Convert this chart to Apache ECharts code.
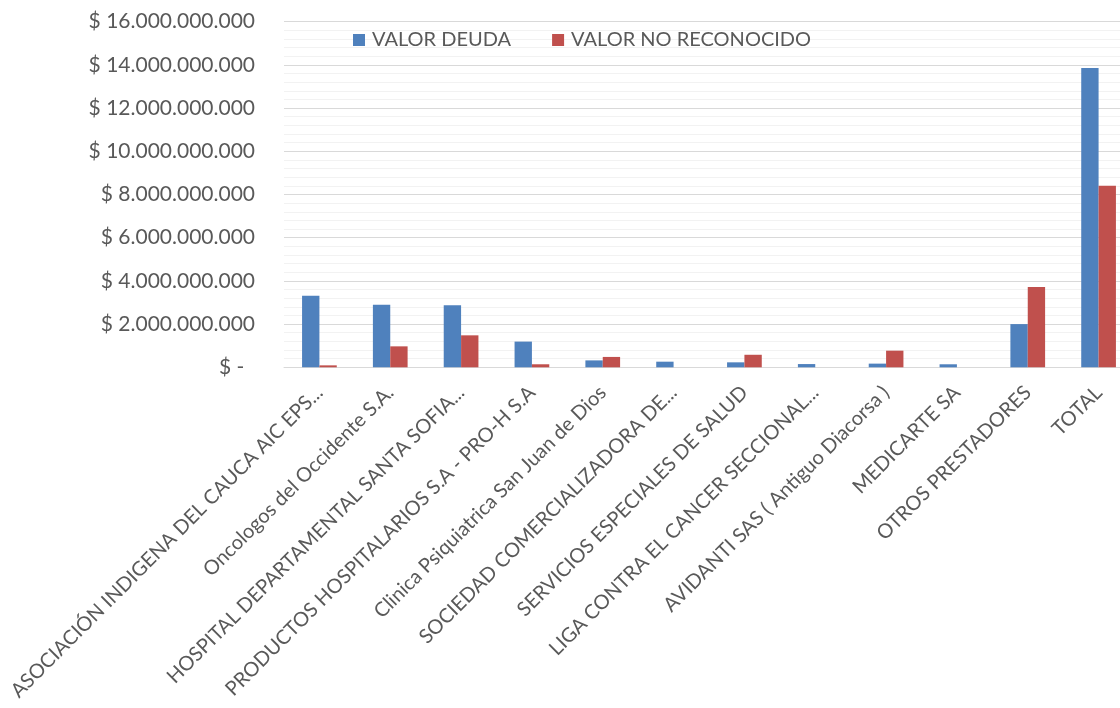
<!DOCTYPE html>
<html>
<head>
<meta charset="utf-8">
<script src="https://cdn.jsdelivr.net/npm/echarts@6/dist/echarts.min.js"></script>
<style>
html,body{margin:0;padding:0;background:#fff;overflow:hidden;width:1120px;height:708px;}
#main{width:1140px;height:708px;}
</style>
</head>
<body>
<div id="main"></div>
<script>
const categories = [
  "ASOCIACIÓN INDIGENA DEL CAUCA AIC EPS...",
  "Oncologos del Occidente S.A.",
  "HOSPITAL DEPARTAMENTAL SANTA SOFIA...",
  "PRODUCTOS HOSPITALARIOS S.A - PRO-H S.A",
  "Clinica Psiquiatrica San Juan de Dios",
  "SOCIEDAD COMERCIALIZADORA DE...",
  "SERVICIOS ESPECIALES DE SALUD",
  "LIGA CONTRA EL CANCER SECCIONAL...",
  "AVIDANTI SAS ( Antiguo Diacorsa )",
  "MEDICARTE SA",
  "OTROS PRESTADORES",
  "TOTAL"
];
const valorDeuda = [3310000000, 2900000000, 2870000000, 1190000000, 320000000, 260000000, 230000000, 150000000, 170000000, 140000000, 2000000000, 13860000000];
const valorNoReconocido = [90000000, 970000000, 1480000000, 140000000, 480000000, 0, 580000000, 0, 770000000, 0, 3720000000, 8410000000];
const seriesNames = ["VALOR DEUDA", "VALOR NO RECONOCIDO"];
const yMin = 0, yMax = 16000000000, yStep = 2000000000;

function fmt(v){
  if (v === 0) return "$ -  ";
  return "$ " + String(Math.round(v)).replace(/\B(?=(\d{3})+(?!\d))/g, ".");
}

const chart = echarts.init(document.getElementById('main'), null, {renderer:'canvas', width:1140, height:708});
const FONT = 'Lato';
chart.setOption({
  animation: false,
  backgroundColor: '#ffffff',
  textStyle: {fontFamily: FONT},
  legend: {
    left: 353, top: 30, padding: 0,
    itemWidth: 12, itemHeight: 12, itemGap: 41,
    icon: 'rect',
    textStyle: {fontFamily: FONT, fontSize: 20, color: '#595959', padding:[0,0,0,2]},
    data: seriesNames
  },
  grid: {left: 284, top: 21.7, width: 850, bottom: 340.7, containLabel: false},
  xAxis: {
    type: 'category',
    data: categories,
    axisLine: {show: true, lineStyle: {color: '#D9D9D9', width: 1}},
    axisTick: {show: false},
    axisLabel: {
      interval: 0, rotate: 45, margin: 22,
      fontFamily: FONT, fontSize: 20, color: '#595959'
    }
  },
  yAxis: {
    type: 'value',
    min: yMin, max: yMax, interval: yStep,
    axisLine: {show: false},
    axisTick: {show: false},
    splitLine: {show: true, lineStyle: {color: '#D9D9D9', width: 1}},
    minorTick: {show: false, splitNumber: 5},
    minorSplitLine: {show: true, lineStyle: {color: '#F2F2F2', width: 1}},
    axisLabel: {
      margin: 29, fontFamily: FONT, fontSize: 21, color: '#595959',
      formatter: fmt
    }
  },
  series: [
    {name: seriesNames[0], type: 'bar', data: valorDeuda, barGap: '0%', barCategoryGap: '51%',
     itemStyle: {color: '#4F81BD'}},
    {name: seriesNames[1], type: 'bar', data: valorNoReconocido, barGap: '0%', barCategoryGap: '51%',
     itemStyle: {color: '#C0504D'}}
  ]
});
</script>
</body>
</html>
